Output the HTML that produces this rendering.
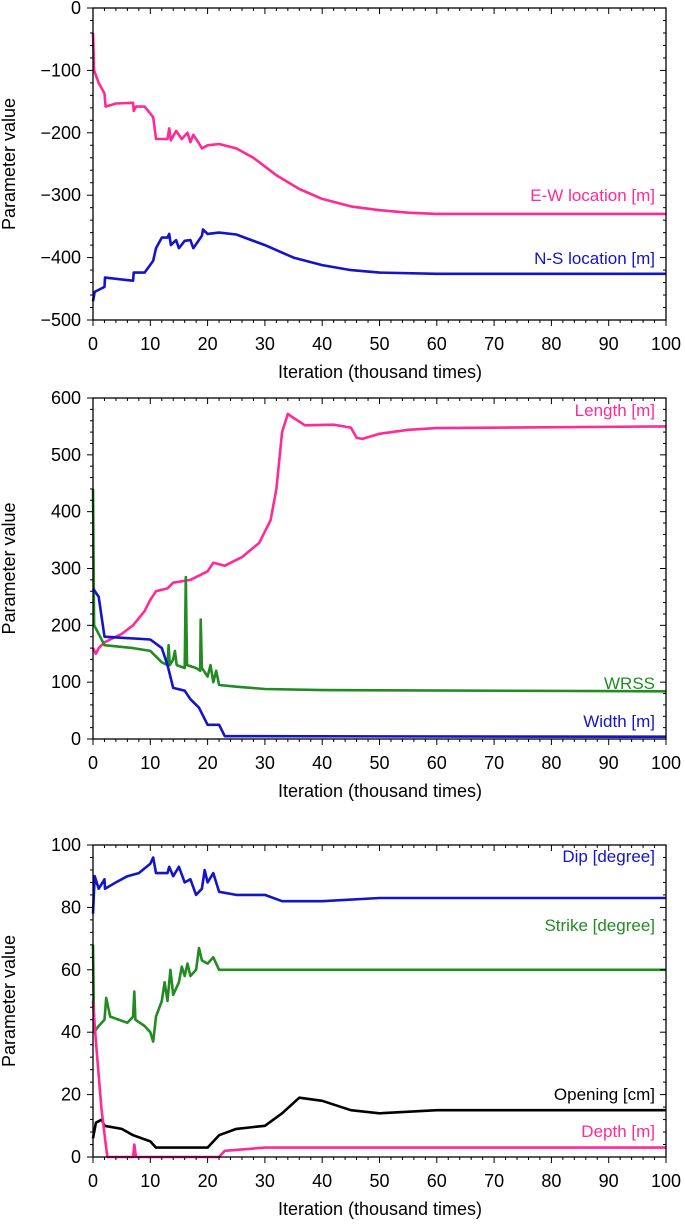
<!DOCTYPE html>
<html><head><meta charset="utf-8"><style>
body{margin:0;background:#fff;}
svg{display:block;font-family:"Liberation Sans",Arial,sans-serif;}
</style></head><body>
<svg id="chart" width="685" height="1226"></svg>
<script>
const xTicks=[0,10,20,30,40,50,60,70,80,90,100];
const p1Ticks=[0,-100,-200,-300,-400,-500];
const p2Ticks=[0,100,200,300,400,500,600];
const p3Ticks=[0,20,40,60,80,100];
const ewX=[0,0.2,1,2,2.2,4,7,7.1,7.5,9,10.5,11,13,13.3,13.6,14.5,15.5,16.5,17,17.5,18.5,19,20,22,25,28,32,36,40,45,50,55,60,100];
const ewY=[-40,-100,-120,-137,-158,-153,-152,-165,-158,-158,-175,-210,-210,-193,-212,-197,-210,-200,-215,-203,-217,-225,-220,-218,-225,-240,-268,-290,-306,-318,-324,-328,-330,-330];
const nsX=[0,0.3,2,2.1,7,7.1,9,10.5,11,12,13,13.3,13.6,14.5,15,16,17,17.5,19,19.2,20,22,25,30,35,40,45,50,60,100];
const nsY=[-470,-455,-447,-432,-437,-424,-424,-405,-385,-368,-368,-362,-380,-372,-385,-373,-372,-385,-365,-355,-362,-360,-363,-380,-400,-412,-420,-424,-426,-426];
const lenX=[0,0.5,1,2,3,5,7,9,10,11,13,14,17,20,21,23,26,29,31,32,33,34,35,37,42,45,46,47,50,55,60,100];
const lenY=[160,150,160,170,175,185,200,225,245,260,265,275,280,295,310,305,320,345,385,440,540,572,565,552,553,548,530,528,537,544,547,550];
const wrssX=[0,0.2,1,2,7,10,12,13,13.2,13.4,14,14.3,14.6,16,16.2,16.4,18,18.7,18.8,19,20,20.5,21,21.5,22,25,30,40,100];
const wrssY=[440,200,185,165,160,155,135,130,165,130,140,155,130,125,285,130,125,120,210,125,110,130,100,120,95,92,88,86,84];
const widX=[0,1,2,10,12,13,14,16,17,18.5,20,22,23,100];
const widY=[265,250,180,175,160,130,90,85,70,55,25,25,5,4];
const dipX=[0,0.3,1,2,2.1,4,6,8,10,10.5,11,13,13.3,14,15,16,17,18,19,19.5,20,21,22,25,30,33,40,50,100];
const dipY=[78,90,86,89,86,88,90,91,94,96,91,91,93,90,93,88,89,84,86,92,88,91,85,84,84,82,82,83,83];
const strX=[0,0.2,1,2,2.3,3,6,7,7.2,7.4,9,10,10.5,11,12,12.5,13,13.5,14,15,15.5,16,16.5,17,18,18.5,19,20,21,22,100];
const strY=[68,40,42,44,51,45,43,45,53,44,42,40,37,45,50,56,50,60,52,56,61,58,62,58,60,67,63,62,64,60,60];
const opX=[0,0.5,1.5,2,5,7,10,11,20,22,25,30,33,36,40,45,50,60,100];
const opY=[6,11,12,10,9,7,5,3,3,7,9,10,14,19,18,15,14,15,15];
const depX=[0,0.5,1.5,2.5,7,7.2,7.5,22,23,30,100];
const depY=[50,37,15,0,0,4,0,0,2,3,3];

const NS="http://www.w3.org/2000/svg";
const svg=document.getElementById('chart');
function mk(t,a,p){const e=document.createElementNS(NS,t);for(const k in a)e.setAttribute(k,a[k]);(p||svg).appendChild(e);return e;}
const X0=93,X1=666;
function sx(v){return X0+(v/100)*(X1-X0);}
const PINK="#ff2a96",BLUE="#1414c8",GREEN="#228b22";

function panel(name,top,bot,ymin,ymax,ticks,minorStep,series,labels){
  const g=mk('g',{});
  
  
  const sy=v=>bot-(v-ymin)/(ymax-ymin)*(bot-top);
  series.forEach(s=>{
    let d=s.xs.map((x,i)=>(i?'L':'M')+sx(x).toFixed(1)+','+sy(s.ys[i]).toFixed(1)).join('');
    const p=mk('path',{d:d,fill:'none',stroke:s.c,'stroke-width':2.6,'stroke-linejoin':'round'},g);
    
    
  });
  mk('rect',{x:X0,y:top,width:X1-X0,height:bot-top,fill:'none',stroke:'#000','stroke-width':1.3},g);
  for(let v=0;v<=100;v+=2){
    const major=v%10===0, L=major?6:3;
    mk('line',{x1:sx(v),x2:sx(v),y1:bot,y2:bot+L,stroke:'#000'},g);
    mk('line',{x1:sx(v),x2:sx(v),y1:top,y2:top+L,stroke:'#000'},g);
  }
  xTicks.forEach(v=>{
    const t=mk('text',{x:sx(v),y:bot+30,'text-anchor':'middle','font-size':18},g);
    t.textContent=v;
    
    
  });
  for(let v=ymin;v<=ymax+1e-6;v+=minorStep){
    const major=ticks.some(t=>Math.abs(t-v)<1e-6), L=major?6:3;
    mk('line',{x1:X0-L,x2:X0,y1:sy(v),y2:sy(v),stroke:'#000'},g);
    mk('line',{x1:X1-L,x2:X1,y1:sy(v),y2:sy(v),stroke:'#000'},g);
  }
  ticks.forEach(v=>{
    const t=mk('text',{x:X0-12,y:sy(v)+6,'text-anchor':'end','font-size':18},g);
    t.textContent=v<0?'\u2212'+(-v):v;
    
    
  });
  const xt=mk('text',{x:380,y:bot+58,'text-anchor':'middle','font-size':18},g);
  xt.textContent='Iteration (thousand times)';
  
  
  const cy=(top+bot)/2;
  const yt=mk('text',{x:15,y:cy,'text-anchor':'middle','font-size':18,transform:'rotate(-90 15 '+cy+')'},g);
  yt.textContent='Parameter value';
  
  
  labels.forEach(l=>{
    const t=mk('text',{x:655,y:l.y,'text-anchor':'end','font-size':17,fill:l.c},g);
    t.textContent=l.t;
    
    
  });
}
panel('panel-location',8,320,-500,0,p1Ticks,20,
 [{xs:ewX,ys:ewY,c:PINK,n:'ew-location-line'},{xs:nsX,ys:nsY,c:BLUE,n:'ns-location-line'}],
 [{t:'E-W location [m]',y:201,c:PINK},{t:'N-S location [m]',y:264,c:BLUE}]);
panel('panel-size',398,739,0,600,p2Ticks,20,
 [{xs:lenX,ys:lenY,c:PINK,n:'length-line'},{xs:wrssX,ys:wrssY,c:GREEN,n:'wrss-line'},{xs:widX,ys:widY,c:BLUE,n:'width-line'}],
 [{t:'Length [m]',y:416,c:PINK},{t:'WRSS',y:689,c:GREEN},{t:'Width [m]',y:727,c:BLUE}]);
panel('panel-angles',845,1157,0,100,p3Ticks,4,
 [{xs:dipX,ys:dipY,c:BLUE,n:'dip-line'},{xs:strX,ys:strY,c:GREEN,n:'strike-line'},{xs:opX,ys:opY,c:'#000',n:'opening-line'},{xs:depX,ys:depY,c:PINK,n:'depth-line'}],
 [{t:'Dip [degree]',y:862,c:BLUE},{t:'Strike [degree]',y:931,c:GREEN},{t:'Opening [cm]',y:1100,c:'#000'},{t:'Depth [m]',y:1137,c:PINK}]);
</script>
</body></html>
